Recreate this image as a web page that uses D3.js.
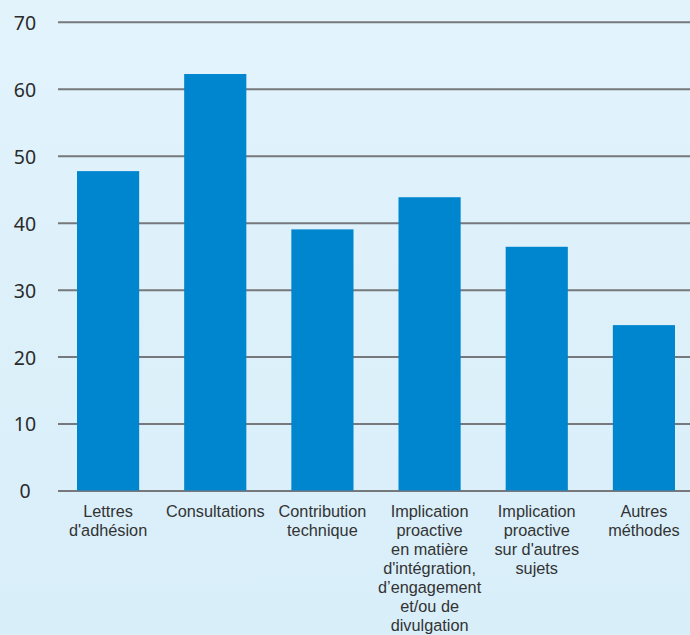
<!DOCTYPE html>
<html>
<head>
<meta charset="utf-8">
<script src="https://cdn.jsdelivr.net/npm/d3@7"></script>
<style>
  body { margin: 0; padding: 0; }
  svg { display: block; }
</style>
</head>
<body>
<script>
// chart data
var categories = [
  ["Lettres", "d'adhésion"],
  ["Consultations"],
  ["Contribution", "technique"],
  ["Implication", "proactive", "en matière", "d'intégration,", "d’engagement", "et/ou de", "divulgation"],
  ["Implication", "proactive", "sur d'autres", "sujets"],
  ["Autres", "méthodes"]
];
var values = [47.7, 62.2, 39.0, 43.8, 36.4, 24.7];
var yTicks = [0, 10, 20, 30, 40, 50, 60, 70];

var svgWidth = 690, svgHeight = 635;

var svg = d3.select("body")
            .append("svg")
            .attr("width", svgWidth)
            .attr("height", svgHeight);

// light blue background, slightly darker at the bottom
var grad = svg.append("defs").append("linearGradient")
              .attr("id", "bg")
              .attr("x1", 0).attr("y1", 0).attr("x2", 0).attr("y2", 1);
grad.append("stop").attr("offset", "0%").attr("stop-color", "#e2f3fc");
grad.append("stop").attr("offset", "100%").attr("stop-color", "#d8eef9");

svg.append("rect")
   .attr("width", svgWidth)
   .attr("height", svgHeight)
   .style("fill", "url(#bg)");

// scales
var xScale = d3.scaleBand()
               .domain(d3.range(categories.length))
               .range([54.5, 697.5])
               .paddingInner(0.42)
               .paddingOuter(0.21);

var yScale = d3.scaleLinear()
               .domain([0, 70])
               .range([490.5, 21.8]);

// y axis with gridlines
var yAxis = svg.append("g")
               .attr("class", "y axis")
               .call(d3.axisLeft(yScale)
                       .tickValues(yTicks)
                       .tickSize(0)
                       .tickPadding(0));
yAxis.select(".domain").remove();
yAxis.selectAll(".tick text")
     .attr("x", 25)
     .attr("dy", "0.38em")
     .style("text-anchor", "middle")
     .style("font-family", "'Noto Sans', sans-serif")
     .style("font-size", "19.5px")
     .style("fill", "#2b2b2b");
yAxis.selectAll(".tick")
     .append("line")
     .attr("x1", 58)
     .attr("x2", svgWidth)
     .style("stroke", "#76787b")
     .style("stroke-width", 2);

// bars
svg.selectAll("rect.bar")
   .data(values)
   .enter()
   .append("rect")
   .attr("class", "bar")
   .attr("x", function(d, i) { return xScale(i); })
   .attr("y", function(d) { return yScale(d); })
   .attr("width", xScale.bandwidth())
   .attr("height", function(d) { return yScale(0) - yScale(d); })
   .style("fill", "#0085cf");

// category labels, one tspan per line
var labelTop = 516.5, lineStep = 19.1;
var labels = svg.selectAll("text.cat")
                .data(categories)
                .enter()
                .append("text")
                .attr("class", "cat")
                .attr("x", function(d, i) { return xScale(i) + xScale.bandwidth() / 2; })
                .attr("y", labelTop)
                .style("text-anchor", "middle")
                .style("font-family", "'Liberation Sans', Arial, sans-serif")
                .style("font-size", "16.3px")
                .style("fill", "#333");

labels.each(function(d) {
  var t = d3.select(this);
  d.forEach(function(line, j) {
    t.append("tspan")
     .attr("x", t.attr("x"))
     .attr("y", labelTop + j * lineStep)
     .text(line);
  });
});
</script>
</body>
</html>
